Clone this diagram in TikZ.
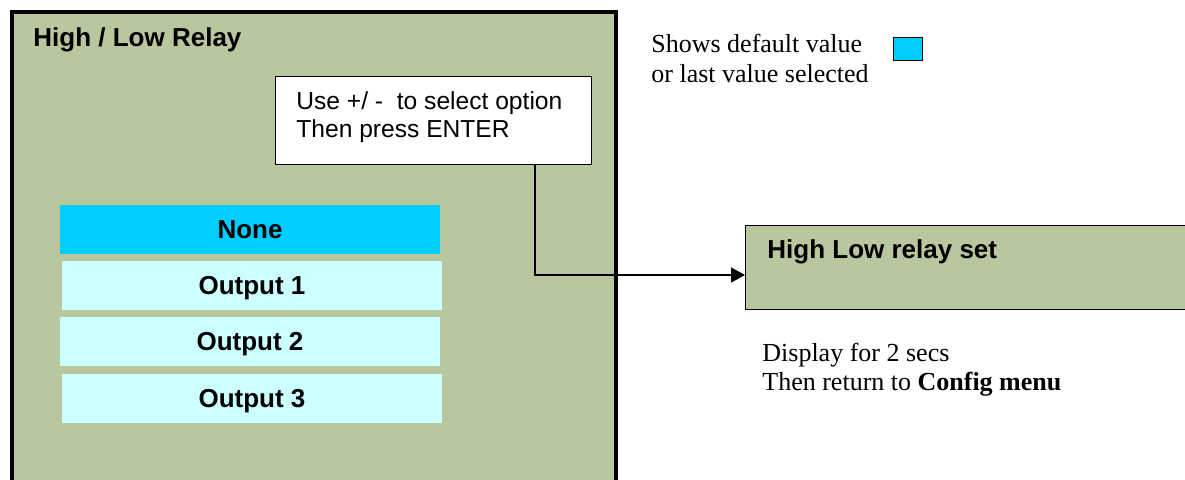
\documentclass[tikz,border=0pt]{standalone}
\usepackage{fontspec}
\setmainfont{Liberation Serif}
\setsansfont{Liberation Sans}
\usetikzlibrary{arrows.meta}
\definecolor{panelgreen}{RGB}{184,199,158}
\definecolor{selblue}{RGB}{0,204,255}
\definecolor{optcyan}{RGB}{204,255,255}
\begin{document}
\begin{tikzpicture}[x=0.5pt, y=-0.5pt,
    every node/.style={inner sep=0pt, font=\sffamily\fontsize{12.3}{14}\selectfont},
    option/.style={rectangle, minimum width=190pt, minimum height=24.5pt, text height=9.3pt, text depth=0pt, font=\sffamily\bfseries\fontsize{13}{14}\selectfont},
    note/.style={anchor=north west, align=left, font=\rmfamily\fontsize{13}{14.5}\selectfont}]
    \useasboundingbox (0,0) rectangle (1185,479);
    \clip (0,0) rectangle (1185,479);

    % Menu panel
    \node[draw, line width=2pt, fill=panelgreen, anchor=north west, minimum width=302pt, minimum height=250pt] (panel) at (10,10) {};
    \node[anchor=west, font=\sffamily\bfseries\fontsize{13}{14}\selectfont] (title) at (33,40) {High / Low Relay};

    % Hint box
    \node[draw, line width=0.7pt, fill=white, anchor=north west, minimum width=158pt, minimum height=44pt] (hint) at (275,76) {};
    \node[anchor=north west, align=left] (hinttext) at (296,91) {Use +/ -\ \ to select option\\Then press ENTER};

    % Option list
    \node[option, fill=selblue] (none) at (250,229.5) {None};
    \foreach \i/\x/\y in {1/252/285, 2/250/341.5, 3/252/398} {
        \node[option, fill=optcyan] (out\i) at (\x,\y) {Output \i};
    }

    % Result box
    \node[draw, line width=0.7pt, fill=panelgreen, anchor=north west, minimum width=250pt, minimum height=42pt] (relayset) at (745,225) {};
    \node[anchor=west, font=\sffamily\bfseries\fontsize{13}{14}\selectfont] (settext) at (767,252) {High Low relay set};
    \node[note] (display) at (762,343) {Display for 2 secs\\Then return to \textbf{Config menu}};

    % Legend
    \node[note, font=\rmfamily\fontsize{13}{15}\selectfont] (legend) at (651,34) {Shows default value\\or last value selected};
    \node[draw, line width=0.7pt, fill=selblue, anchor=north west, minimum width=14.5pt, minimum height=11.5pt] (swatch) at (893,37) {};

    % Connector
    \coordinate (bend) at (535,275);
    \draw[line width=0.7pt, -{Triangle[length=7pt, width=7.5pt]}] (hint.south -| bend) -- (bend) -- (bend -| relayset.west);
\end{tikzpicture}
\end{document}
